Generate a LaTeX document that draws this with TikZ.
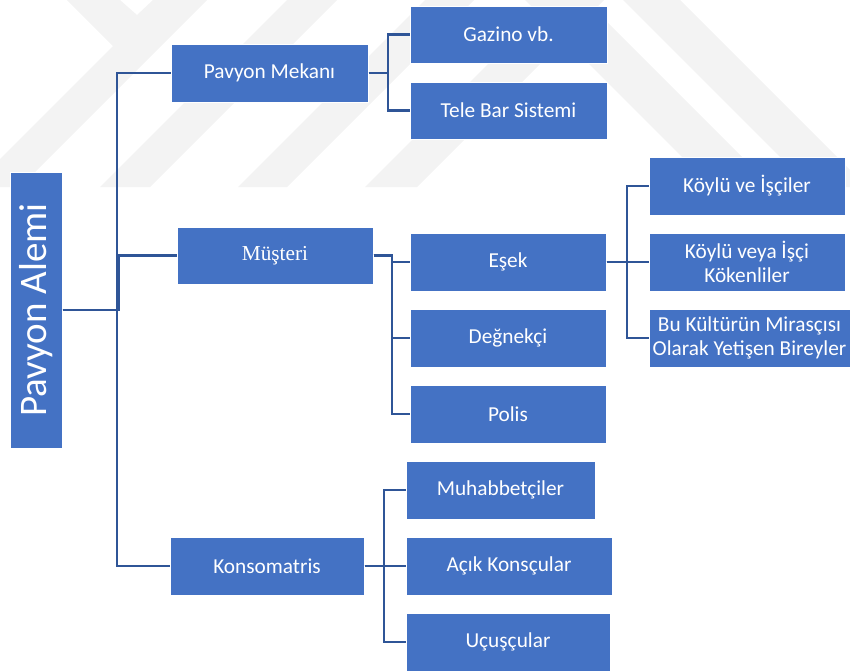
\documentclass[tikz,border=0pt]{standalone}
\usepackage{fontspec}
\setmainfont{Carlito}
\newfontfamily\serifm{Liberation Serif}
\definecolor{boxblue}{RGB}{68,114,196}
\definecolor{lineblue}{RGB}{47,85,151}
\definecolor{wm}{RGB}{243,243,243}
\begin{document}
\begin{tikzpicture}[x=1pt,y=-1pt,
  box/.style={draw=white, line width=1pt, fill=boxblue, text=white, inner sep=0pt,
    align=center, font=\fontsize{21.3}{24}\selectfont},
  link/.style={draw=lineblue, line width=2.8pt}]
\useasboundingbox (0,0) rectangle (850,670);
% faint watermark
\fill[wm] (67,0) -- (120,0) -- (137,15) -- (153,0) -- (207,0) -- (20,187) -- (0,187) -- (0,159) -- (113,46) -- cycle;
\fill[wm] (100,187) -- (150,187) -- (337,0) -- (287,0) -- cycle;
\fill[wm] (238,187) -- (287,187) -- (474,0) -- (425,0) -- cycle;
\fill[wm] (365,187) -- (417,187) -- (604,0) -- (552,0) -- cycle;
\fill[wm] (525,0) -- (585,0) -- (772,187) -- (712,187) -- cycle;
\fill[wm] (623,0) -- (680,0) -- (850,170) -- (850,187) -- (810,187) -- cycle;
% nodes
\node[box, minimum width=52pt, minimum height=276pt, font=\fontsize{39}{40}\selectfont] (root) at (36,310) {\rotatebox{90}{Pavyon Alemi}};
\node[box, minimum width=197pt, minimum height=58pt] (mek) at (269.5,73) {Pavyon Mekanı};
\node[box, minimum width=196pt, minimum height=57pt, font=\serifm\fontsize{21.3}{24}\selectfont] (mus) at (275,255.5) {Müşteri};
\node[box, minimum width=194pt, minimum height=58pt] (kon) at (267,566) {Konsomatris};
\node[box, minimum width=197pt, minimum height=57pt] (gaz) at (508.5,34.5) {Gazino vb.};
\node[box, minimum width=197pt, minimum height=57pt] (tel) at (508.5,110.5) {Tele Bar Sistemi};
\node[box, minimum width=196pt, minimum height=58pt] (esek) at (508,262) {Eşek};
\node[box, minimum width=196pt, minimum height=58pt] (deg) at (508,338) {Değnekçi};
\node[box, minimum width=196pt, minimum height=58pt] (pol) at (508,414) {Polis};
\node[box, minimum width=196pt, minimum height=58pt] (koy1) at (747,186) {Köylü ve İşçiler};
\node[box, minimum width=196pt, minimum height=58pt] (koy2) at (747,262) {Köylü veya İşçi\\Kökenliler};
\node[box, minimum width=201pt, minimum height=58pt] (bu) at (749.5,338) {Bu Kültürün Mirasçısı\\Olarak Yetişen Bireyler};
\node[box, minimum width=189pt, minimum height=58pt] (muh) at (500.5,490) {Muhabbetçiler};
\node[box, minimum width=206pt, minimum height=58pt] (acik) at (509,566) {Açık Konsçular};
\node[box, minimum width=204pt, minimum height=58pt] (ucu) at (508,642) {Uçuşçular};
% trunk coordinates
\coordinate (t1) at (117,0);
\coordinate (t2) at (119,0);
\coordinate (t3) at (388,0);
\coordinate (t4) at (392,0);
\coordinate (t5) at (627,0);
\coordinate (t6) at (384,0);
% connectors
\draw[link] (root.east) -- (root.east -| t1) |- (mek.west);
\draw[link] (root.east) -- (root.east -| t1) |- (kon.west);
\draw[link] (root.east) -- (root.east -| t2) |- (mus.west);
\draw[link] (mek.east) -- (mek.east -| t3) |- (gaz.west);
\draw[link] (mek.east) -- (mek.east -| t3) |- (tel.west);
\draw[link] (mus.east) -- (mus.east -| t4) |- (esek.west);
\draw[link] (mus.east) -- (mus.east -| t4) |- (deg.west);
\draw[link] (mus.east) -- (mus.east -| t4) |- (pol.west);
\draw[link] (esek.east) -- (esek.east -| t5) |- (koy1.west);
\draw[link] (esek.east) -- (esek.east -| t5) |- (koy2.west);
\draw[link] (esek.east) -- (esek.east -| t5) |- (bu.west);
\draw[link] (kon.east) -- (kon.east -| t6) |- (muh.west);
\draw[link] (kon.east) -- (kon.east -| t6) |- (acik.west);
\draw[link] (kon.east) -- (kon.east -| t6) |- (ucu.west);
\end{tikzpicture}
\end{document}
